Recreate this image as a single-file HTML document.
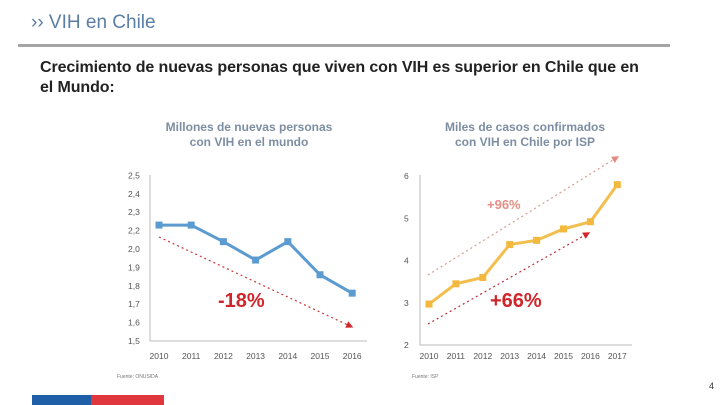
<!DOCTYPE html>
<html><head><meta charset="utf-8"><style>
body{margin:0;width:720px;height:405px;background:#fff;overflow:hidden;position:relative;font-family:"Liberation Sans","DejaVu Sans",sans-serif}
.abs{position:absolute}
</style></head><body>
<div class="abs" style="left:31px;top:12px;font-size:19px;color:#5b7ea6">›› VIH en Chile</div>
<div class="abs" style="left:18px;top:44px;width:652px;height:3px;background:#a5a5a5"></div>
<div class="abs" style="left:40px;top:58px;font-size:16px;line-height:20px;color:#222;font-weight:bold;letter-spacing:-0.1px">Crecimiento de nuevas personas que viven con VIH es superior en Chile que en<br>el Mundo:</div>
<div class="abs" style="left:32px;top:395px;width:59px;height:10px;background:#1f5fa8"></div>
<div class="abs" style="left:91px;top:395px;width:73px;height:10px;background:#e0373f"></div>
<div class="abs" style="left:709px;top:381px;font-size:9px;color:#333">4</div>
<svg id="c" class="abs" style="left:0;top:0" width="720" height="405"></svg>
<script>
const worldYears=["2010","2011","2012","2013","2014","2015","2016"];
const worldValues=[2.13,2.13,2.04,1.94,2.04,1.86,1.76];
const worldTickLabels=["1,5","1,6","1,7","1,8","1,9","2,0","2,2","2,3","2,4","2,5"];
const chileYears=["2010","2011","2012","2013","2014","2015","2016","2017"];
const chileValues=[2.97,3.45,3.6,4.38,4.48,4.75,4.92,5.8];
const chileTicks=[2,3,4,5,6];
const NS="http://www.w3.org/2000/svg",svg=document.getElementById('c');
function mk(t,a,txt){const e=document.createElementNS(NS,t);for(const k in a)e.setAttribute(k,a[k]);if(txt!=null)e.textContent=txt;svg.appendChild(e);return e;}
const wx=i=>159+i*32.2, wy=v=>341-(v-1.5)/0.1*18.4;
const cx=i=>429+i*26.9, cy=v=>345-(v-2)*42.2;
let t=mk('text',{x:249,y:131,'text-anchor':'middle','font-size':12,'font-weight':'bold',fill:'#7d8ea3'},'Millones de nuevas personas');

t=mk('text',{x:249,y:146,'text-anchor':'middle','font-size':12,'font-weight':'bold',fill:'#7d8ea3'},'con VIH en el mundo');

t=mk('text',{x:525,y:131,'text-anchor':'middle','font-size':12,'font-weight':'bold',fill:'#7d8ea3'},'Miles de casos confirmados');

t=mk('text',{x:525,y:146,'text-anchor':'middle','font-size':12,'font-weight':'bold',fill:'#7d8ea3'},'con VIH en Chile por ISP');

let a=mk('path',{d:'M150 175V341H367',stroke:'#bbb',fill:'none','stroke-width':1});

a=mk('path',{d:'M420 175V345H632',stroke:'#bbb',fill:'none','stroke-width':1});

worldTickLabels.forEach((l,i)=>{const e=mk('text',{x:128,y:wy(1.5+i*0.1)+3,'font-size':8.5,fill:'#555'},l);
});
worldYears.forEach((l,i)=>{const e=mk('text',{x:wx(i),y:359,'text-anchor':'middle','font-size':8.5,fill:'#555'},l);
});
chileTicks.forEach(v=>{const e=mk('text',{x:404,y:cy(v)+3,'font-size':8.5,fill:'#555'},String(v));
});
chileYears.forEach((l,i)=>{const e=mk('text',{x:cx(i),y:359,'text-anchor':'middle','font-size':8.5,fill:'#555'},l);
});
mk('defs',{}).innerHTML='<marker id="ar" markerWidth="6" markerHeight="6" refX="3" refY="3" orient="auto"><path d="M0,0L6,3L0,6z" fill="#d0262b"/></marker><marker id="ar2" markerWidth="6" markerHeight="6" refX="3" refY="3" orient="auto"><path d="M0,0L6,3L0,6z" fill="#e08a80"/></marker>';
let d=mk('line',{x1:159,y1:237,x2:350,y2:326,stroke:'#c8393a','stroke-dasharray':'2 3','stroke-width':1.2,'marker-end':'url(#ar)'});

d=mk('line',{x1:428,y1:324,x2:587,y2:234,stroke:'#b8303a','stroke-dasharray':'2 3','stroke-width':1.2,'marker-end':'url(#ar)'});

d=mk('line',{x1:428,y1:275,x2:616,y2:158,stroke:'#d99a90','stroke-dasharray':'2 3','stroke-width':1.2,'marker-end':'url(#ar2)'});

const wp=mk('polyline',{points:worldValues.map((v,i)=>wx(i)+','+wy(v)).join(' '),fill:'none',stroke:'#5b9bd0','stroke-width':3});

worldValues.forEach((v,i)=>{const r=mk('rect',{x:wx(i)-3.5,y:wy(v)-3.5,width:7,height:7,fill:'#5b9bd0'});
});
const cp=mk('polyline',{points:chileValues.map((v,i)=>cx(i)+','+cy(v)).join(' '),fill:'none',stroke:'#f2bf4e','stroke-width':3});

chileValues.forEach((v,i)=>{const r=mk('rect',{x:cx(i)-3.5,y:cy(v)-3.5,width:7,height:7,fill:'#f2b93e'});
});
t=mk('text',{x:218,y:307,'font-size':20,'font-weight':'bold',fill:'#d0262b'},'-18%');

t=mk('text',{x:490,y:307,'font-size':20,'font-weight':'bold',fill:'#d0262b'},'+66%');

t=mk('text',{x:487,y:209,'font-size':13,'font-weight':'bold',fill:'#e38f85'},'+96%');

t=mk('text',{x:117,y:378,'font-size':5,fill:'#777'},'Fuente: ONUSIDA');

t=mk('text',{x:412,y:378,'font-size':5,fill:'#777'},'Fuente: ISP');

</script>
</body></html>
